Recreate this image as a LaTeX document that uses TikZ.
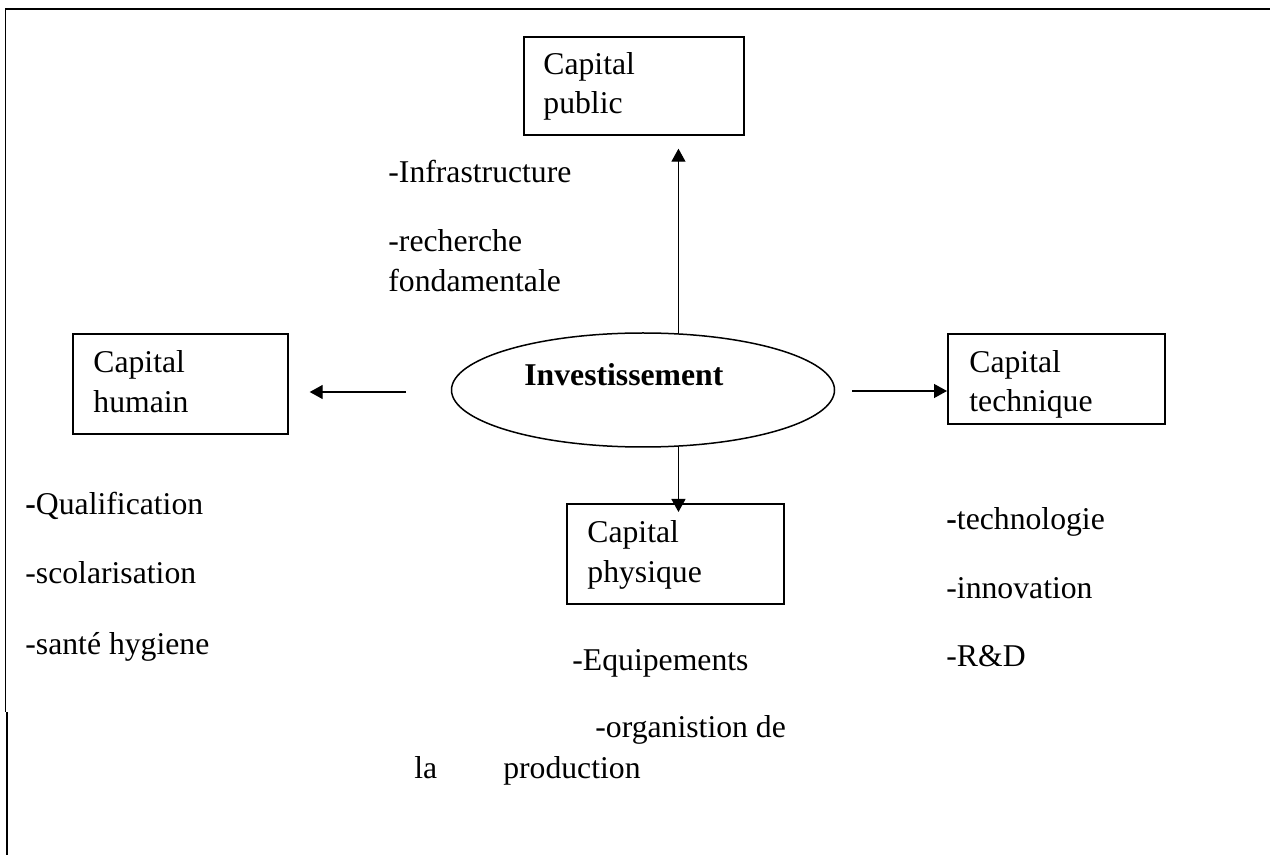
\documentclass[tikz,border=0pt]{standalone}
\usepackage{fontspec}
\setmainfont{Liberation Serif}
\usetikzlibrary{shapes.geometric,arrows.meta}

\begin{document}
\begin{tikzpicture}[x=0.5pt,y=-0.5pt,
  every node/.style={font=\fontsize{15.85pt}{19pt}\selectfont},
  capbox/.style={draw,line width=0.85pt,rectangle,inner sep=0pt,anchor=north west},
  line/.style={anchor=base west,inner sep=0pt},
  arr/.style={line width=0.65pt,-{Triangle[length=6.5pt,width=7pt]}},
  frame/.style={line width=1pt}]
\useasboundingbox (0,0) rectangle (1270,855);

% open frame: top edge and left edge only
\draw[frame] (5,9) -- (1270,9);
\draw[line width=0.65pt] (5.5,9) -- (5.5,712);
\draw[frame] (6.5,712) -- (6.5,855);

% central ellipse
\node[draw,ellipse,line width=0.75pt,minimum width=191.5pt,minimum height=57pt,inner sep=0pt] (inv) at (643,390) {};
\node[line,font=\fontsize{15.85pt}{19pt}\selectfont\bfseries] (invt) at (524,386) {Investissement};

% the four capital boxes
\node[capbox,minimum width=110pt,minimum height=49pt] (pub) at (523,36) {};
\node[line] (pub1) at (543,75) {Capital};
\node[line] (pub2) at (543,114) {public};

\node[capbox,minimum width=107.5pt,minimum height=50pt] (hum) at (72,333) {};
\node[line] (hum1) at (93,373) {Capital};
\node[line] (hum2) at (93,413) {humain};

\node[capbox,minimum width=108.5pt,minimum height=45pt] (tec) at (947,333) {};
\node[line] (tec1) at (969,373) {Capital};
\node[line] (tec2) at (969,412) {technique};

\node[capbox,minimum width=108.5pt,minimum height=50pt] (phy) at (566,503) {};
\node[line] (phy1) at (587,543) {Capital};
\node[line] (phy2) at (587,583) {physique};

% arrows from the ellipse
\draw[arr,shorten >=6.5pt] (inv.58) -- (inv.58 |- pub.south);
\draw[arr,shorten >=-4.5pt] (inv.-58) -- (inv.-58 |- phy.north);
\coordinate (lstart) at (406,392);
\draw[arr,shorten >=10.5pt] (lstart) -- (lstart -| hum.east);
\coordinate (rstart) at (852,391);
\draw[arr] (rstart) -- (rstart -| tec.west);

% public capital items
\node[line] (p1) at (388,183) {-Infrastructure};
\node[line] (p2) at (388,252) {-recherche};
\node[line] (p3) at (388,292) {fondamentale};

% human capital items
\node[line] (h1) at (25,515) {\textbf{-}Qualification};
\node[line] (h2) at (25,584) {-scolarisation};
\node[line] (h3) at (25,654) {-santé hygiene};

% technical capital items
\node[line] (t1) at (946,530) {\textbf{-}technologie};
\node[line] (t2) at (946,599) {-innovation};
\node[line] (t3) at (946,667) {-R\&D};

% physical capital items
\node[line] (f1) at (572,670) {-Equipements};
\node[line] (f2) at (595,737) {-organistion de};
\node[line] (f3) at (414,778) {la\hspace{33pt}production};
\end{tikzpicture}
\end{document}
